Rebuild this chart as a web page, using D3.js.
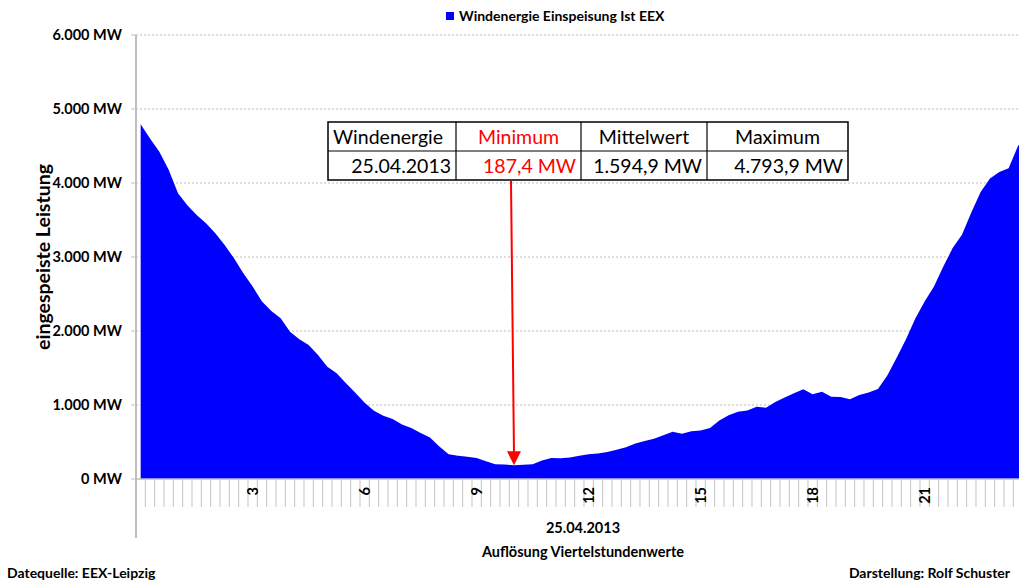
<!DOCTYPE html>
<html>
<head>
<meta charset="utf-8">
<script src="https://cdn.jsdelivr.net/npm/d3@7"></script>
<style>
    body { margin: 0; background: #fff; }
    text { font-family: Lato, "Open Sans", sans-serif; fill: #000; }
</style>
</head>
<body>
<svg id="chart" width="1019" height="581"></svg>
<script>
// Windenergie Einspeisung 25.04.2013, Viertelstundenwerte in MW (0:00 .. 23:45)
const windMW = [
    4793.9, 4600, 4423, 4180, 3861, 3700, 3568, 3455, 3320, 3162, 2982, 2779,
    2600, 2400, 2270, 2171, 1991, 1890, 1811, 1676, 1518, 1428, 1293, 1165,
    1030, 923, 855, 810, 735, 690, 620, 560, 440, 335, 315, 300,
    285, 240, 200, 195, 187.4, 192, 200, 250, 285, 279, 290, 315,
    335, 345, 365, 395, 430, 480, 515, 545, 590, 640, 610, 645,
    655, 690, 790, 860, 910, 925, 977, 964, 1040, 1100, 1160, 1212,
    1144, 1180, 1113, 1108, 1077, 1135, 1170, 1215, 1400, 1640, 1890, 2170,
    2400, 2600, 2870, 3120, 3300, 3600, 3880, 4060, 4150, 4200, 4500, 4650
];

const yTicks = [0, 1000, 2000, 3000, 4000, 5000, 6000];
const hourTicks = [3, 6, 9, 12, 15, 18, 21];

const legendLabel = "Windenergie Einspeisung Ist EEX";
const tableHead = ["Windenergie", "Minimum", "Mittelwert", "Maximum"];
const tableRow = ["25.04.2013", "187,4 MW", "1.594,9 MW", "4.793,9 MW"];

const de = d3.formatLocale({decimal: ",", thousands: ".", grouping: [3], currency: ["", " €"]});
const fmt = de.format(",");

let svg = d3.select("#chart");
let W = 1019;

let slotW = 9.333;
let x = d3.scaleBand().domain(d3.range(windMW.length)).range([136, 136 + slotW * windMW.length]);
let y = d3.scaleLinear().domain([0, 6000]).range([479, 35]);
let cx = i => x(i) + x.bandwidth() / 2;

// gridlines
svg.append("g").selectAll("line").data(yTicks.filter(d => d > 0)).join("line")
    .attr("x1", 136).attr("x2", W)
    .attr("y1", d => y(d)).attr("y2", d => y(d))
    .attr("stroke", "#bcbcbc")
    .attr("stroke-dasharray", "2,2");

// area
svg.append("path")
    .datum(windMW)
    .attr("fill", "#0000ff")
    .attr("d", d3.area().x((d, i) => cx(i)).y0(y(0)).y1(d => y(d)));

// x axis line + category ticks
svg.append("line")
    .attr("x1", 136).attr("x2", W)
    .attr("y1", y(0)).attr("y2", y(0))
    .attr("stroke", "#bfbfbf").attr("stroke-width", 1.5);

svg.append("g").selectAll("line").data(d3.range(1, windMW.length + 1)).join("line")
    .attr("x1", d => 136 + d * x.bandwidth()).attr("x2", d => 136 + d * x.bandwidth())
    .attr("y1", y(0)).attr("y2", y(0) + 28)
    .attr("stroke", "#c4c4c4");

// y axis line
svg.append("line")
    .attr("x1", 136).attr("x2", 136)
    .attr("y1", y(6000)).attr("y2", 538)
    .attr("stroke", "#bfbfbf").attr("stroke-width", 2);

svg.append("g").selectAll("line").data(yTicks).join("line")
    .attr("x1", 131).attr("x2", 136)
    .attr("y1", d => y(d)).attr("y2", d => y(d))
    .attr("stroke", "#bfbfbf");

svg.append("g").selectAll("text").data(yTicks).join("text")
    .attr("x", 122)
    .attr("y", d => y(d))
    .attr("dy", "0.36em")
    .attr("text-anchor", "end")
    .style("font-weight", "bold")
    .style("font-size", "14.5px")
    .text(d => fmt(d) + " MW");

// hour labels (rotated)
svg.append("g").selectAll("text").data(hourTicks).join("text")
    .attr("transform", d => "translate(" + cx(d * 4) + "," + 487 + ") rotate(-90)")
    .attr("text-anchor", "end")
    .attr("dy", "0.36em")
    .style("font-weight", "bold")
    .style("font-size", "14.5px")
    .text(d => d);

// axis titles
svg.append("text")
    .attr("transform", "translate(50,257) rotate(-90)")
    .attr("text-anchor", "middle")
    .style("font-weight", "bold")
    .style("font-size", "19.5px")
    .text("eingespeiste Leistung");

svg.append("text")
    .attr("x", 583).attr("y", 533)
    .attr("text-anchor", "middle")
    .style("font-weight", "bold")
    .style("font-size", "14.5px")
    .text("25.04.2013");

svg.append("text")
    .attr("x", 583).attr("y", 557)
    .attr("text-anchor", "middle")
    .style("font-weight", "bold")
    .style("font-size", "14.5px")
    .text("Auflösung Viertelstundenwerte");

svg.append("text")
    .attr("x", 7).attr("y", 578)
    .style("font-weight", "bold")
    .style("font-size", "14px")
    .text("Datequelle:  EEX-Leipzig");

svg.append("text")
    .attr("x", 1010).attr("y", 578)
    .attr("text-anchor", "end")
    .style("font-weight", "bold")
    .style("font-size", "14px")
    .text("Darstellung: Rolf Schuster");

// legend
svg.append("rect")
    .attr("x", 446).attr("y", 12).attr("width", 8).attr("height", 8)
    .attr("fill", "#0000ff");
svg.append("text")
    .attr("x", 459).attr("y", 21)
    .style("font-weight", "bold")
    .style("font-size", "14px")
    .text(legendLabel);

// info table
let colX = [328, 456, 581, 707, 848];
let rowY = [122, 151, 180];
let tbl = svg.append("g");
tbl.append("rect")
    .attr("x", colX[0]).attr("y", rowY[0])
    .attr("width", colX[4] - colX[0]).attr("height", rowY[2] - rowY[0])
    .attr("fill", "#fff").attr("stroke", "#000").attr("stroke-width", 1.5);
tbl.append("line")
    .attr("x1", colX[0]).attr("x2", colX[4]).attr("y1", rowY[1]).attr("y2", rowY[1])
    .attr("stroke", "#000").attr("stroke-width", 1.2);
tbl.selectAll(".vline").data(colX.slice(1, 4)).join("line")
    .attr("class", "vline")
    .attr("x1", d => d).attr("x2", d => d).attr("y1", rowY[0]).attr("y2", rowY[2])
    .attr("stroke", "#000").attr("stroke-width", 1.2);

tbl.selectAll(".head").data(tableHead).join("text")
    .attr("class", "head")
    .attr("x", (d, i) => i === 0 ? colX[0] + 5 : (colX[i] + colX[i + 1]) / 2)
    .attr("y", rowY[0] + 22)
    .attr("text-anchor", (d, i) => i === 0 ? "start" : "middle")
    .style("font-size", "19.5px")
    .style("fill", (d, i) => i === 1 ? "#ff0000" : "#000")
    .text(d => d);

tbl.selectAll(".val").data(tableRow).join("text")
    .attr("class", "val")
    .attr("x", (d, i) => colX[i + 1] - 5)
    .attr("y", rowY[1] + 22)
    .attr("text-anchor", "end")
    .style("font-size", "19.5px")
    .style("fill", (d, i) => i === 1 ? "#ff0000" : "#000")
    .text(d => d);

// arrow to minimum
let minIdx = d3.minIndex(windMW);
let tipX = cx(minIdx), tipY = y(windMW[minIdx]);
svg.append("line")
    .attr("x1", tipX - 3).attr("y1", rowY[2] + 1)
    .attr("x2", tipX).attr("y2", tipY - 12)
    .attr("stroke", "#ff0000").attr("stroke-width", 2);
svg.append("path")
    .attr("d", "M" + (tipX - 7) + "," + (tipY - 14) + "L" + (tipX + 7) + "," + (tipY - 14) + "L" + tipX + "," + tipY + "Z")
    .attr("fill", "#ff0000");
</script>
</body>
</html>
